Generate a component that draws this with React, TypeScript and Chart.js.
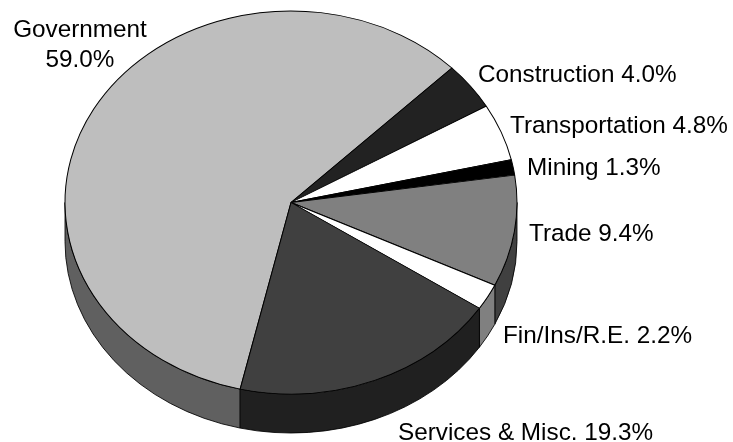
import React, { useEffect, useRef } from "react";
import { Chart, registerables } from "chart.js";

Chart.register(...registerables);

const categories = ["Government", "Construction", "Transportation", "Mining", "Trade", "Fin/Ins/R.E.", "Services & Misc."];
const shares = [59.0, 4.0, 4.8, 1.3, 9.4, 2.2, 19.3];
const topColors = ["#bebebe", "#222222", "#ffffff", "#000000", "#808080", "#ffffff", "#404040"];
const wallColors = ["#606060", "#111111", "#808080", "#000000", "#404040", "#808080", "#202020"];

// Label placement: x, baseline y, and whether the name and share stack on two centred lines
const labelPlaces: [number, number, boolean][] = [
  [80, 37, true],
  [478, 82, false],
  [510, 133, false],
  [527, 175, false],
  [529, 241, false],
  [503, 343, false],
  [398, 440, false],
];

const X_STRETCH = 226 / 191.5;
const DEPTH = 39;
const LINE = 0.85;

const pie3d = {
  id: "pie3d",
  beforeDatasetsDraw(chart: any) {
    const { ctx } = chart;
    const arcs = chart.getDatasetMeta(0).data;
    arcs.forEach((arc: any, i: number) => {
      const { x, y, outerRadius: r, startAngle, endAngle } = arc;
      const rx = r * X_STRETCH;
      for (let k = -1; k <= 1; k++) {
        const s = Math.max(startAngle + 2 * Math.PI * k, 0);
        const e = Math.min(endAngle + 2 * Math.PI * k, Math.PI);
        if (e <= s) continue;
        ctx.save();
        ctx.beginPath();
        ctx.ellipse(x, y, rx, r, 0, s, e);
        ctx.lineTo(x + rx * Math.cos(e), y + r * Math.sin(e) + DEPTH);
        ctx.ellipse(x, y + DEPTH, rx, r, 0, e, s, true);
        ctx.closePath();
        ctx.fillStyle = wallColors[i];
        ctx.fill();
        ctx.strokeStyle = "#000000";
        ctx.lineWidth = LINE;
        ctx.stroke();
        ctx.restore();
      }
    });
    const first = arcs[0];
    ctx.save();
    ctx.translate(first.x, first.y);
    ctx.scale(X_STRETCH, 1);
    ctx.translate(-first.x, -first.y);
  },
  afterDatasetsDraw(chart: any) {
    chart.ctx.restore();
  },
  afterDraw(chart: any) {
    const { ctx } = chart;
    ctx.save();
    ctx.font = '24.3px "Liberation Sans", Arial, sans-serif';
    ctx.fillStyle = "#000000";
    ctx.textBaseline = "alphabetic";
    categories.forEach((name, i) => {
      const [x, y, stacked] = labelPlaces[i];
      const pct = shares[i].toFixed(1) + "%";
      if (stacked) {
        ctx.textAlign = "center";
        ctx.fillText(name, x, y);
        ctx.fillText(pct, x, y + 30);
      } else {
        ctx.textAlign = "left";
        ctx.fillText(name + " " + pct, x, y);
      }
    });
    ctx.restore();
  },
};

export default function App() {
  const ref = useRef<HTMLCanvasElement>(null);
  useEffect(() => {
    const chart = new Chart(ref.current as HTMLCanvasElement, {
      type: "pie",
      data: {
        labels: categories,
        datasets: [
          {
            data: shares,
            backgroundColor: topColors,
            borderColor: "#000000",
            borderWidth: LINE,
          },
        ],
      },
      options: {
        responsive: false,
        animation: false,
        rotation: -167.0,
        radius: 191.5,
        layout: { padding: { left: 0, right: 151, top: 0, bottom: 37 } },
        plugins: { legend: { display: false }, tooltip: { enabled: false } },
      },
      plugins: [pie3d],
    } as any);
    return () => chart.destroy();
  }, []);
  return (
    <div style={{ position: "fixed", left: 0, top: 0, width: 733, height: 442, background: "#ffffff" }}>
      <canvas ref={ref} width={733} height={442} style={{ display: "block" }} />
    </div>
  );
}
